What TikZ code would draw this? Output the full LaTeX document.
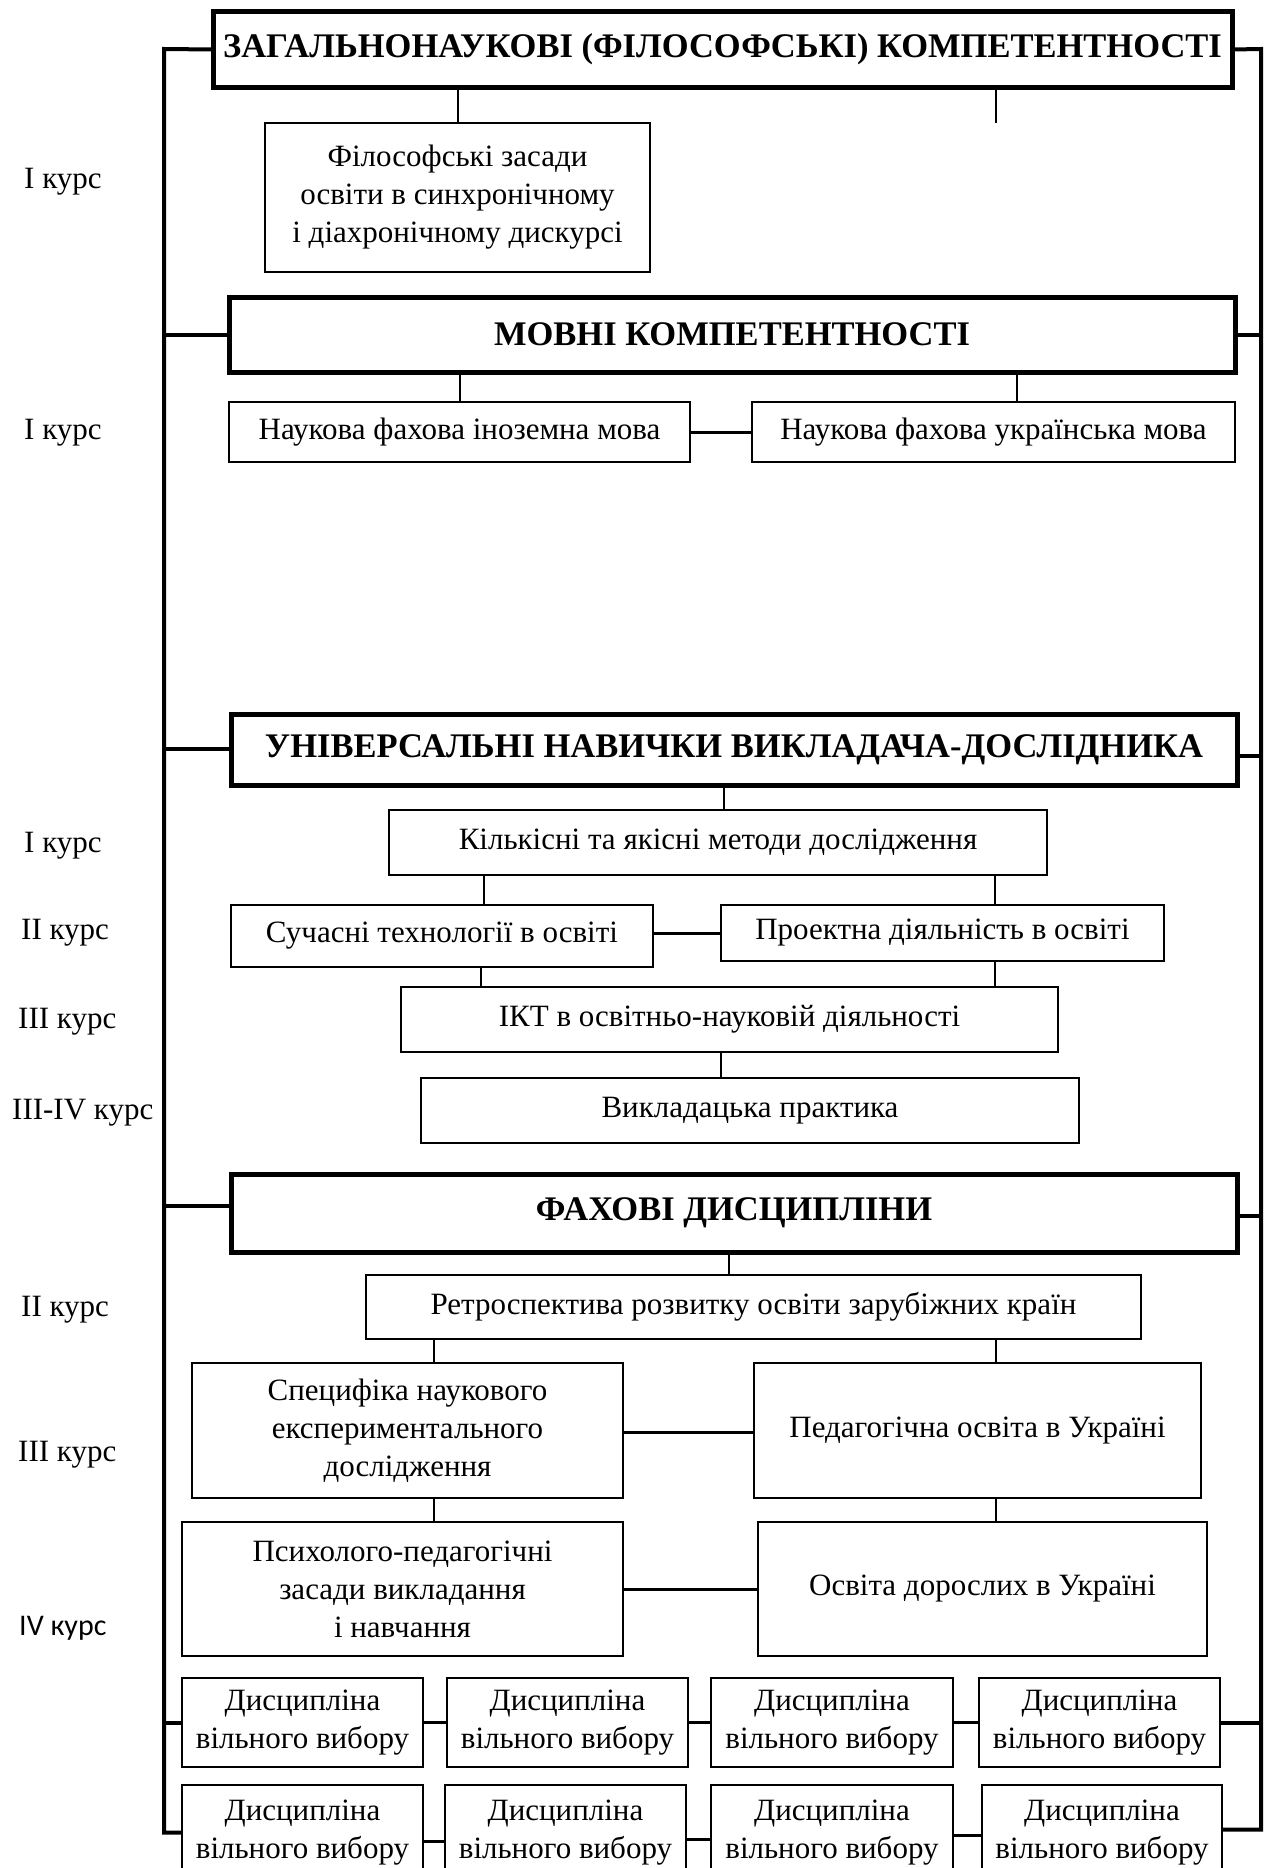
\documentclass[tikz,border=0pt]{standalone}
\usepackage{fontspec}
\setmainfont{Liberation Serif}
\newfontfamily\calibfont{Carlito}
\tikzset{
  box/.style={draw, line width=2.5pt, fill=white, inner sep=0pt, outer sep=0pt, align=center, font=\fontsize{31}{38}\selectfont},
  titlebox/.style={box, line width=5pt, font=\bfseries\fontsize{34.5}{40}\selectfont},
  conn/.style={line width=2pt},
  hconn/.style={line width=3pt},
  trunk/.style={line width=4pt, line join=miter},
  lbl/.style={anchor=west, inner sep=0pt, font=\fontsize{31}{36}\selectfont},
}
\newcommand\mkbox[7][]{\node[box,#1,minimum width={#5-#3},minimum height={#6-#4}] (#2) at ({(#3+#5)/2},{(#4+#6)/2}) {#7};}
\begin{document}
\begin{tikzpicture}[x=1pt,y=-1pt]
\useasboundingbox (0,0) rectangle (1267,1868);
\clip (0,0) rectangle (1267,1868);
% --- boxes ---
\mkbox[titlebox]{t1}{213}{12}{1232}{87}{ЗАГАЛЬНОНАУКОВІ (ФІЛОСОФСЬКІ) КОМПЕТЕНТНОСТІ}
\mkbox{phil}{265}{123}{650}{272}{Філософські засади\\освіти в синхронічному\\і діахронічному дискурсі}
\mkbox[titlebox]{t2}{229}{297}{1235}{372}{МОВНІ КОМПЕТЕНТНОСТІ}
\mkbox{inoz}{229}{402}{690}{462}{Наукова фахова іноземна мова}
\mkbox{ukr}{752}{402}{1235}{462}{Наукова фахова українська мова}
\mkbox[titlebox]{t3}{231}{714}{1237}{785}{УНІВЕРСАЛЬНІ НАВИЧКИ ВИКЛАДАЧА-ДОСЛІДНИКА}
\mkbox{kilk}{389}{810}{1047}{875}{Кількісні та якісні методи дослідження}
\mkbox{such}{231}{905}{653}{967}{Сучасні технології в освіті}
\mkbox{proek}{721}{905}{1164}{961}{Проектна діяльність в освіті}
\mkbox{ikt}{401}{987}{1058}{1052}{ІКТ в освітньо-науковій діяльності}
\mkbox{vykl}{421}{1078}{1079}{1143}{Викладацька практика}
\mkbox[titlebox]{t4}{231}{1174}{1237}{1252}{ФАХОВІ ДИСЦИПЛІНИ}
\mkbox{retro}{366}{1275}{1141}{1339}{Ретроспектива розвитку освіти зарубіжних країн}
\mkbox{spec}{192}{1363}{623}{1498}{Специфіка наукового\\експериментального\\дослідження}
\mkbox{ped}{754}{1363}{1201}{1498}{Педагогічна освіта в Україні}
\mkbox{psych}{182}{1522}{623}{1656}{Психолого-педагогічні\\засади викладання\\і навчання}
\mkbox{dor}{758}{1522}{1207}{1656}{Освіта дорослих в Україні}
\mkbox{da1}{182}{1678}{423}{1767}{Дисципліна\\вільного вибору}
\mkbox{da2}{447}{1678}{688}{1767}{Дисципліна\\вільного вибору}
\mkbox{da3}{711}{1678}{953}{1767}{Дисципліна\\вільного вибору}
\mkbox{da4}{979}{1678}{1220}{1767}{Дисципліна\\вільного вибору}
\mkbox{db1}{182}{1785}{423}{1880}{Дисципліна\\вільного вибору}
\mkbox{db2}{445}{1785}{686}{1880}{Дисципліна\\вільного вибору}
\mkbox{db3}{711}{1785}{953}{1880}{Дисципліна\\вільного вибору}
\mkbox{db4}{982}{1785}{1222}{1880}{Дисципліна\\вільного вибору}
% --- course labels ---
\node[lbl] (c1) at (24,182) {I курс};
\node[lbl] (c2) at (24,433) {I курс};
\node[lbl] (c3) at (24,846) {I курс};
\node[lbl] (c4) at (21,933) {II курс};
\node[lbl] (c5) at (18,1022) {III курс};
\node[lbl] (c6) at (12,1113) {III-IV курс};
\node[lbl] (c7) at (21,1310) {II курс};
\node[lbl] (c8) at (18,1455) {III курс};
\node[lbl, font=\calibfont\fontsize{30}{36}\selectfont] (c9) at (19,1628) {IV курс};
% --- trunks ---
\coordinate (LT) at (164,49);
\coordinate (RT) at (1261,49);
\draw[trunk] (t1.west) -- (LT) -- (LT |- db1.west) -- (db1.west);
\draw[trunk] (t1.east) -- (RT) -- ([yshift=3pt]RT |- db4.east) -- ([yshift=3pt]db4.east);
\draw[trunk] (t2.west) -- (t2.west -| LT);
\draw[trunk] (t2.east) -- (t2.east -| RT);
\draw[trunk] ([yshift=1pt]t3.west) -- ([yshift=1pt]t3.west -| LT);
\draw[trunk] ([yshift=-6pt]t3.east) -- ([yshift=-6pt]t3.east -| RT);
\draw[trunk] ([yshift=7pt]t4.west) -- ([yshift=7pt]t4.west -| LT);
\draw[trunk] ([yshift=-3pt]t4.east) -- ([yshift=-3pt]t4.east -| RT);
\draw[trunk] (da1.west) -- (da1.west -| LT);
\draw[trunk] (da4.east) -- (da4.east -| RT);
% --- vertical connectors ---
\coordinate (dang) at (996,123);
\draw[conn] (phil.north) -- (phil.north |- t1.south);
\draw[conn] (dang |- t1.south) -- (dang);
\draw[conn] (inoz.north) -- (inoz.north |- t2.south);
\draw[conn] ([xshift=23pt]ukr.north) -- ([xshift=23pt]ukr.north |- t2.south);
\draw[conn] ([xshift=6pt]kilk.north) -- ([xshift=6pt]kilk.north |- t3.south);
\draw[conn] ([xshift=42pt]such.north) -- ([xshift=42pt]such.north |- kilk.south);
\draw[conn] ([xshift=52pt]proek.north) -- ([xshift=52pt]proek.north |- kilk.south);
\draw[conn] ([xshift=39pt]such.south) -- ([xshift=39pt]such.south |- ikt.north);
\draw[conn] ([xshift=52pt]proek.south) -- ([xshift=52pt]proek.south |- ikt.north);
\draw[conn] ([xshift=-29pt]vykl.north) -- ([xshift=-29pt]vykl.north |- ikt.south);
\draw[conn] ([xshift=-25pt]retro.north) -- ([xshift=-25pt]retro.north |- t4.south);
\draw[conn] ([xshift=26pt]spec.north) -- ([xshift=26pt]spec.north |- retro.south);
\draw[conn] ([xshift=18pt]ped.north) -- ([xshift=18pt]ped.north |- retro.south);
\draw[conn] ([xshift=26pt]spec.south) -- ([xshift=26pt]spec.south |- psych.north);
\draw[conn] ([xshift=18pt]ped.south) -- ([xshift=18pt]ped.south |- dor.north);
% --- horizontal connectors ---
\draw[hconn] (inoz.east) -- (ukr.west);
\draw[hconn] ([yshift=3pt]such.east) -- (proek.west);
\draw[hconn] ([yshift=-2pt]spec.east) -- ([yshift=-2pt]ped.west);
\draw[hconn] ([yshift=-0pt]psych.east) -- (dor.west);
\draw[hconn] (da1.east) -- (da2.west);
\draw[hconn] (da2.east) -- (da3.west);
\draw[hconn] (da3.east) -- (da4.west);
\draw[hconn] ([yshift=-9pt]db1.east) -- ([yshift=-9pt]db2.west);
\draw[hconn] ([yshift=-7pt]db2.east) -- ([yshift=-7pt]db3.west);
\draw[hconn] ([yshift=-3pt]db3.east) -- ([yshift=-3pt]db4.west);
\end{tikzpicture}
\end{document}
